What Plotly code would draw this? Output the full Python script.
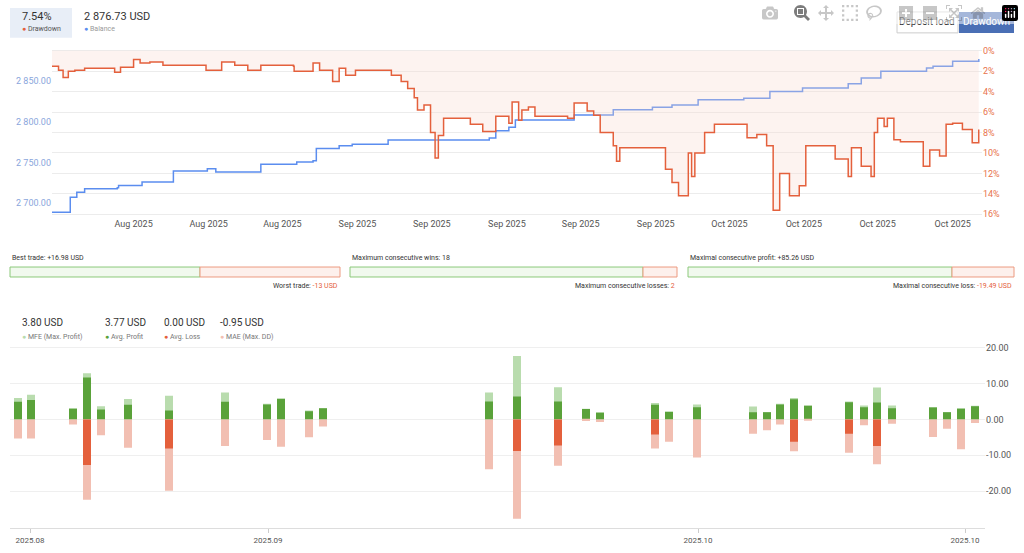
import plotly.graph_objects as go

# ---- top chart data (time index, drawdown %, balance USD) ----
dd_x = [80, 90, 97, 105, 115, 130, 175, 176, 185, 205, 215, 230, 250, 270, 315, 316, 340, 360, 380, 400,
        450, 451, 480, 490, 510, 520, 530, 545, 585, 600, 615, 625, 635, 640, 650, 660, 667, 672, 680, 720,
        721, 740, 760, 780, 785, 795, 800, 810, 820, 870, 880, 900, 910, 920, 940, 945, 950, 1010, 1020, 1030,
        1040, 1055, 1060, 1065, 1080, 1095, 1140, 1145, 1160, 1175, 1185, 1195, 1210, 1225, 1235, 1275, 1280, 1300,
        1305, 1320, 1335, 1340, 1345, 1355, 1360, 1370, 1380, 1410, 1415, 1425, 1440, 1450, 1460, 1475, 1490, 1500]
dd_val = [1.5, 1.9, 2.6, 2.0, 1.9, 1.7, 1.7, 2.1, 1.6, 0.85, 1.2, 1.1, 1.4, 1.4, 1.4, 1.9, 1.1, 1.4, 1.9, 1.4,
          1.5, 2.0, 1.2, 1.9, 3.0, 1.7, 2.4, 1.9, 1.9, 2.4, 3.0, 3.7, 4.6, 5.8, 5.3, 8.0, 10.5, 8.3, 6.6, 6.6,
          7.2, 7.9, 6.4, 7.1, 5.0, 6.8, 5.8, 5.5, 6.4, 6.6, 5.1, 5.9, 6.3, 8.0, 9.3, 10.8, 9.5, 9.5, 11.6, 12.9,
          14.2, 10.0, 12.3, 10.0, 8.0, 7.2, 7.2, 8.5, 8.2, 9.3, 15.6, 12.0, 14.2, 13.2, 9.3, 9.3, 10.6, 12.3,
          9.5, 11.3, 12.3, 8.0, 6.6, 7.4, 6.6, 8.7, 8.9, 8.9, 11.3, 9.7, 10.3, 7.2, 7.1, 7.7, 9.0, 7.7]

bal_x = [80, 105, 108, 118, 130, 180, 182, 215, 218, 265, 266, 315, 318, 330, 331, 390, 400, 455, 480, 485,
         520, 540, 595, 680, 750, 760, 780, 790, 880, 940, 1000, 1030, 1070, 1140, 1180, 1230, 1280, 1300, 1320,
         1350, 1420, 1430, 1460, 1500]
bal_val = [2688.9, 2688.9, 2707.4, 2713.5, 2717.7, 2718.9, 2721.8, 2721.8, 2725.9, 2725.9, 2739.4, 2739.4,
           2742.3, 2742.3, 2738.2, 2738.2, 2747.7, 2750.5, 2752.0, 2767.0, 2770.3, 2772.3, 2777.3, 2777.3,
           2780.0, 2788.8, 2793.0, 2801.9, 2808.1, 2814.3, 2817.5, 2820.4, 2826.6, 2828.6, 2836.8, 2841.0,
           2841.0, 2846.3, 2853.3, 2861.5, 2865.6, 2867.7, 2873.8, 2876.73]

top_tick_pos = [205, 320, 433, 548, 662, 777, 890, 1005, 1118, 1232, 1345, 1460]
top_tick_text = ["Aug 2025"] * 3 + ["Sep 2025"] * 5 + ["Oct 2025"] * 4
bal_ticks = [2700, 2750, 2800, 2850]
bal_tick_text = ["2 700.00", "2 750.00", "2 800.00", "2 850.00"]
dd_ticks = [0, 2, 4, 6, 8, 10, 12, 14, 16]

# ---- bottom chart data (per trade) ----
trade_slot = [18, 31, 73, 87, 101, 128, 169, 225, 267, 281, 309, 323, 489, 517, 558, 586, 600, 655, 669, 697,
              753, 767, 780, 794, 808, 849, 864, 877, 892, 933, 947, 961, 975]
mfe = [6.0, 6.9, 3.1, 12.9, 3.7, 5.7, 6.6, 7.5, 4.4, 5.8, 2.5, 3.1, 7.5, 17.7, 9.0, 3.0, 2.0, 4.6, 2.3, 4.2,
       3.6, 2.1, 4.4, 6.0, 3.9, 5.0, 3.9, 8.9, 3.9, 3.5, 2.1, 3.1, 3.8]
profit = [4.9, 5.4, 3.0, 11.7, 2.8, 4.1, 2.5, 4.9, 4.2, 5.8, 2.3, 3.1, 5.0, 6.4, 5.0, 2.9, 1.9, 4.1, 2.1, 3.4,
          2.0, 2.0, 4.2, 5.6, 3.8, 4.8, 3.4, 4.7, 3.1, 3.3, 2.0, 3.0, 3.7]
loss = [0, 0, 0, -12.7, 0, 0, -8.1, 0, 0, 0, 0, 0, 0, -8.8, -7.3, 0, 0, -4.2, 0, 0,
        0, 0, 0, -6.2, 0, -4.0, 0, -7.4, 0, 0, 0, 0, 0]
mae = [-5.3, -5.3, -1.4, -22.4, -4.4, -7.9, -19.9, -7.4, -5.7, -7.6, -5.0, -2.0, -13.9, -27.7, -12.9, -0.4, -0.7,
       -8.1, -6.2, -10.6, -4.0, -3.0, -1.4, -8.9, -0.1, -9.3, -1.6, -12.5, -1.2, -4.9, -2.6, -8.3, -1.0]
bot_tick_pos = [30, 268, 698, 965]
bot_tick_text = ["2025.08", "2025.09", "2025.10", "2025.10"]

W, H = 1024, 553
RED = "#e4603c"
BLUE = "#5b8def"
DGREEN = "#5aa23a"
LGREEN = "#b9dcae"
PINK = "#f2bfb2"


def px(x):
    return x / W


def py(y):
    return 1 - y / H


fig = go.Figure()
fig.add_trace(go.Scatter(x=dd_x, y=dd_val, mode="lines", line=dict(color=RED, width=1.5, shape="hv"),
                         fill="tozeroy", fillcolor="rgba(250,215,205,0.3)", yaxis="y2", xaxis="x"))
fig.add_trace(go.Scatter(x=bal_x, y=bal_val, mode="lines", line=dict(color=BLUE, width=1.5, shape="hv"),
                         yaxis="y", xaxis="x"))

for vals, col in [(mfe, LGREEN), (profit, DGREEN), (mae, PINK), (loss, RED)]:
    fig.add_trace(go.Bar(x=trade_slot, y=vals, marker=dict(color=col, line=dict(width=0)), width=8,
                         xaxis="x2", yaxis="y3"))

fig.update_layout(
    width=W, height=H, margin=dict(l=0, r=0, t=0, b=0), showlegend=False,
    plot_bgcolor="white", paper_bgcolor="white", barmode="overlay",
    font=dict(family="Roboto, Open Sans, sans-serif", size=9, color="#555"),
    xaxis=dict(domain=[px(52), px(982)], range=[80, 1505], tickvals=top_tick_pos, ticktext=top_tick_text,
               showgrid=False, zeroline=False, showline=False, anchor="y", tickfont=dict(size=9, color="#555")),
    yaxis=dict(domain=[py(218), py(46)], range=[2682.9, 2892.7], tickvals=bal_ticks, ticktext=bal_tick_text,
               showgrid=False, zeroline=False, tickfont=dict(size=9, color="#8aa6dc"), anchor="x"),
    yaxis2=dict(domain=[py(218), py(46)], range=[16.29, -0.49], overlaying="y", side="right",
                tickvals=dd_ticks, ticktext=[f"{v}%" for v in dd_ticks], gridcolor="#ececec",
                zeroline=False, tickfont=dict(size=9, color="#e8734d"), anchor="x"),
    xaxis2=dict(domain=[px(10), px(985)], range=[10, 985], tickvals=bot_tick_pos, ticktext=bot_tick_text,
                showgrid=False, zeroline=False, showline=True, linecolor="#ddd", ticks="outside",
                ticklen=4, tickcolor="#ccc", anchor="y3", tickfont=dict(size=8, color="#555")),
    yaxis3=dict(domain=[py(530), py(340)], range=[-30.3, 22.5], side="right", tickvals=[-20, -10, 0, 10, 20],
                ticktext=["-20.00", "-10.00", "0.00", "10.00", "20.00"], gridcolor="#efefef", zeroline=False,
                anchor="x2", tickfont=dict(size=9, color="#555")),
)

shapes = []
ann = []


def text(x, y, s, size=9, color="#555", xanchor="left"):
    ann.append(dict(x=px(x), y=py(y), xref="paper", yref="paper", text=s, showarrow=False,
                    xanchor=xanchor, yanchor="middle", font=dict(size=size, color=color)))


def box(x0, y0, x1, y1, fill, line="rgba(0,0,0,0)"):
    shapes.append(dict(type="rect", xref="paper", yref="paper", x0=px(x0), x1=px(x1), y0=py(y1), y1=py(y0),
                       fillcolor=fill, line=dict(color=line, width=1)))


# header legend
box(10, 8, 72, 38, "#e8eef7")
text(20, 17, "7.54%", 11, "#333")
text(20, 29, "<span style='color:%s'>●</span> Drawdown" % RED, 7, "#555")
text(82, 17, "2 876.73 USD", 11, "#333")
text(82, 29, "<span style='color:%s'>●</span> Balance" % BLUE, 7, "#999")
box(897, 12, 958, 33, "white", "#ccc")
box(959, 12, 1014, 33, "#4a6fb5")
text(927, 22, "Deposit load", 10, "#333", "center")
text(986, 22, "Drawdown", 10, "white", "center")

# progress bars
bars = [(10, 340, 200, "Best trade: +16.98 USD", "Worst trade: ", "-13 USD"),
        (350, 677, 643, "Maximum consecutive wins: 18", "Maximum consecutive losses: ", "2"),
        (688, 1014, 952, "Maximal consecutive profit: +85.26 USD", "Maximal consecutive loss: ", "-19.49 USD")]
for x0, x1, xm, top, low, lowv in bars:
    box(x0, 268, xm, 278, "#f1f9ee", "#8cc97a")
    box(xm, 268, x1, 278, "#fdf0ec", "#ec9a80")
    text(x0, 259, top, 7, "#333")
    text(x1, 287, low + "<span style='color:%s'>%s</span>" % (RED, lowv), 7, "#333", "right")

# bottom legend
for x, val, lab, col in [(20, "3.80 USD", "MFE (Max. Profit)", LGREEN), (103, "3.77 USD", "Avg. Profit", DGREEN),
                         (162, "0.00 USD", "Avg. Loss", RED), (218, "-0.95 USD", "MAE (Max. DD)", PINK)]:
    text(x, 324, val, 10, "#333")
    text(x, 338, "<span style='color:%s'>●</span> %s" % (col, lab), 7, "#777")

fig.update_layout(shapes=shapes, annotations=ann)
fig.write_html("out.html", post_script="document.body.style.margin='0';document.body.style.overflow='hidden';")
